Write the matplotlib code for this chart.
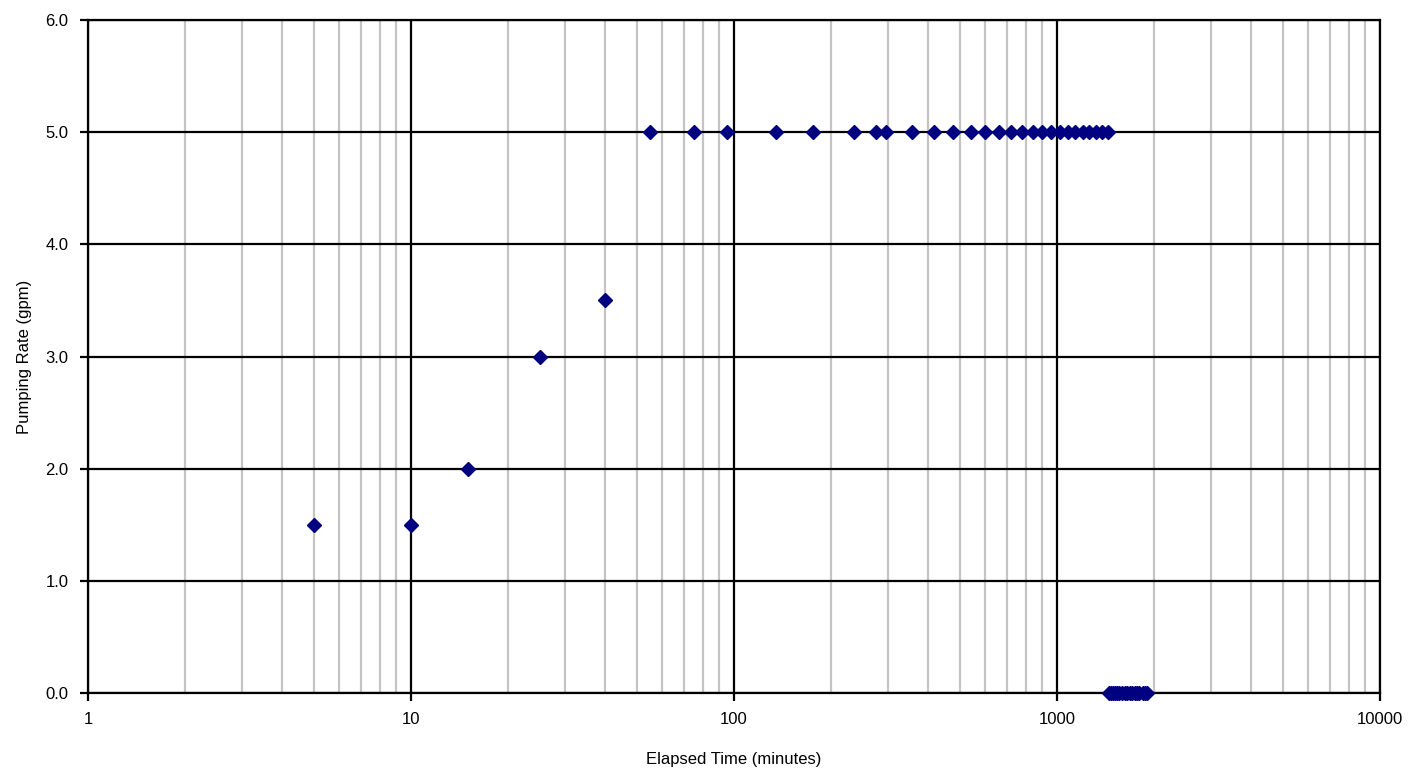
import numpy as np
import matplotlib
matplotlib.use('Agg')
import matplotlib.pyplot as plt
from matplotlib.ticker import FixedLocator, LogLocator, NullFormatter

# elapsed time (minutes) and pumping rate (gpm)
time_min = [5, 10, 15, 25, 40,
            55, 75, 95, 135, 175, 235, 275, 295, 355, 415, 475, 540,
            600, 660, 720, 780, 840, 900, 960, 1020, 1080, 1140, 1200,
            1260, 1320, 1380, 1440,
            1450, 1470, 1490, 1510, 1530, 1560, 1590, 1620, 1650, 1680,
            1710, 1740, 1770, 1800, 1840, 1870, 1900]
rate_gpm = [1.5, 1.5, 2.0, 3.0, 3.5,
            5, 5, 5, 5, 5, 5, 5, 5, 5, 5, 5, 5,
            5, 5, 5, 5, 5, 5, 5, 5, 5, 5, 5,
            5, 5, 5, 5,
            0, 0, 0, 0, 0, 0, 0, 0, 0, 0,
            0, 0, 0, 0, 0, 0, 0]

y_ticks = [0, 1, 2, 3, 4, 5, 6]
x_ticks = [1, 10, 100, 1000, 10000]
x_labels = ['1', '10', '100', '1000', '10000']

plt.rcParams['font.family'] = ['Liberation Sans', 'DejaVu Sans']

fig = plt.figure(figsize=(14.27, 7.76), dpi=100)
ax = fig.add_axes([88/1427, 1 - 693/776, (1380 - 88)/1427, (693 - 20)/776])

ax.set_xscale('log')
ax.set_xlim(1, 10000)
ax.set_ylim(0, 6)

ax.xaxis.set_major_locator(FixedLocator(x_ticks))
ax.set_xticklabels(x_labels)
ax.xaxis.set_minor_locator(LogLocator(base=10, subs=np.arange(2, 10), numticks=20))
ax.xaxis.set_minor_formatter(NullFormatter())
ax.set_yticks(y_ticks)
ax.set_yticklabels(['%.1f' % v for v in y_ticks])

ax.grid(True, which='minor', axis='x', color='#c4c4c4', lw=1.6)
ax.grid(True, which='major', axis='x', color='black', lw=1.6)
ax.grid(True, which='major', axis='y', color='black', lw=1.6)
ax.set_axisbelow(True)

for s in ax.spines.values():
    s.set_linewidth(1.6)
    s.set_color('black')

ax.tick_params(which='major', direction='out', length=6, width=1.6, labelsize=12, pad=8)
ax.tick_params(which='minor', length=0)

ax.plot(time_min, rate_gpm, linestyle='none', marker='D', ms=7.5,
        color='#000080', mec='#000080', clip_on=False, zorder=5)

ax.set_xlabel('Elapsed Time (minutes)', fontsize=12, labelpad=18)
ax.set_ylabel('Pumping Rate (gpm)', fontsize=12, labelpad=10)

fig.savefig('out.png', dpi=100)
